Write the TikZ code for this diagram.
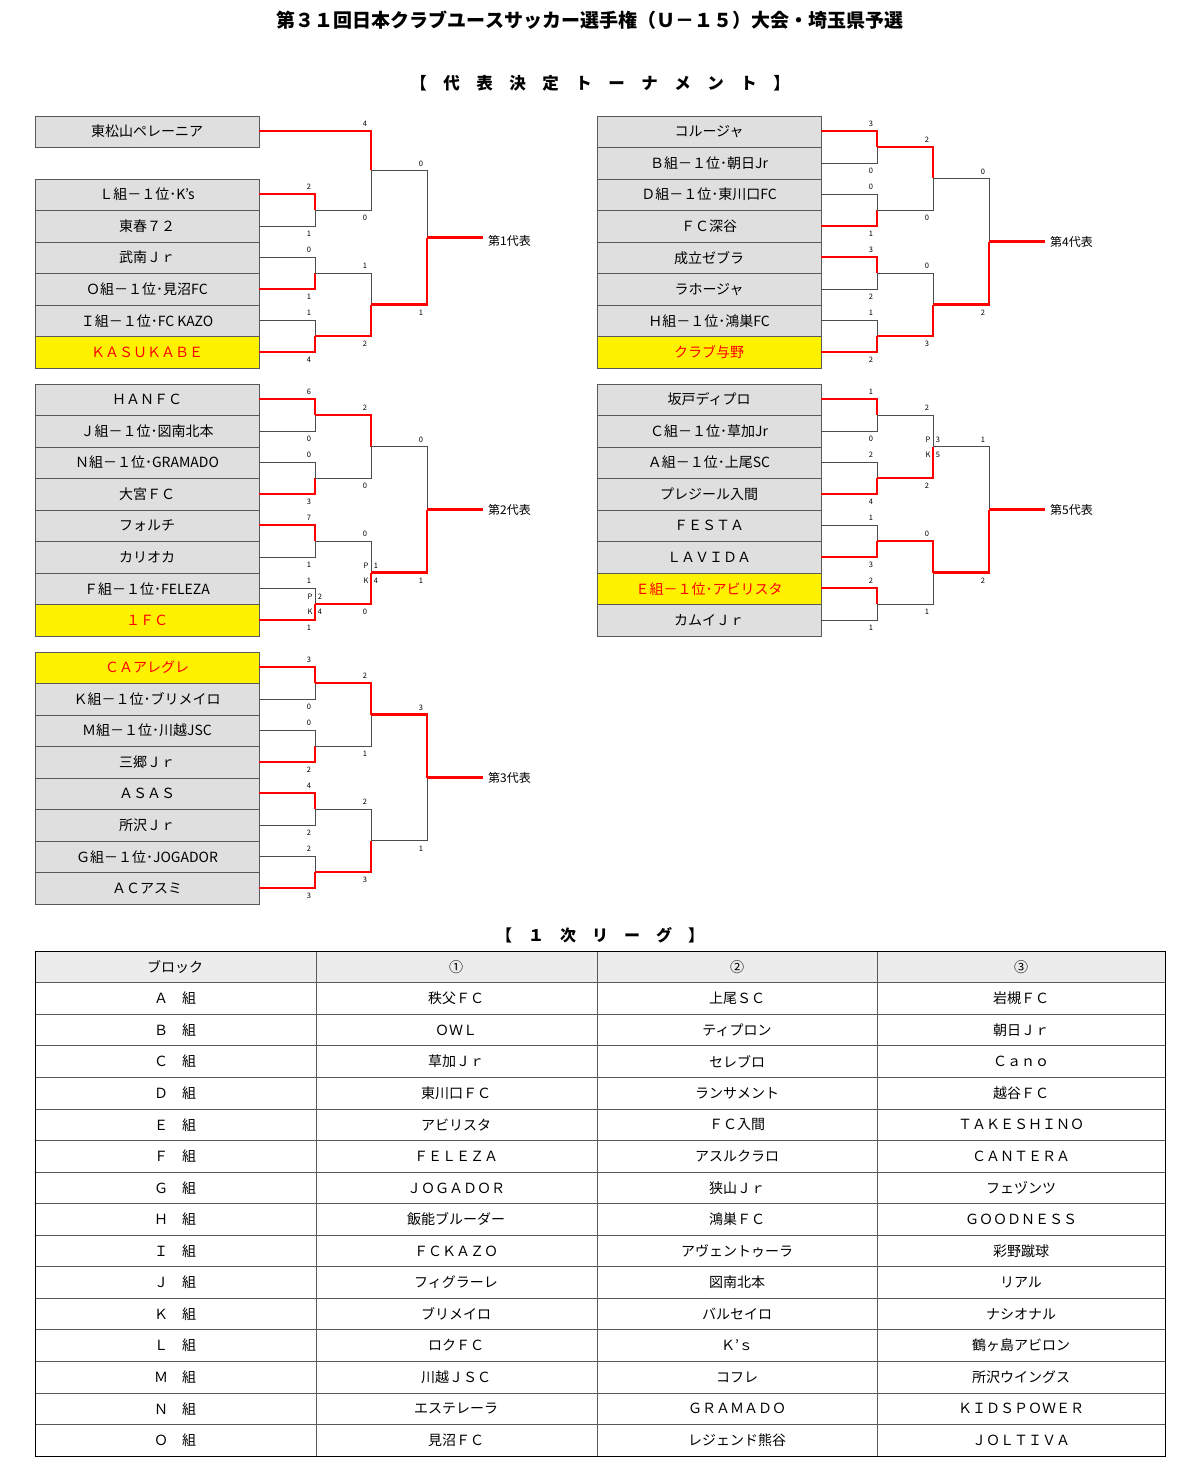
\documentclass[tikz,border=0pt]{standalone}
\usepackage{fontspec}
\setmainfont{Noto Sans CJK JP}
\usetikzlibrary{calc}
\tikzstyle{team} = [draw=gray!70!black, fill=gray!25, minimum width=224pt, minimum height=31.5pt, inner sep=0pt, font=\fontsize{14}{14}\selectfont]
\tikzstyle{seed} = [team, fill=yellow, text=red]
\tikzstyle{win} = [draw=red, line width=2.4pt]
\tikzstyle{lose} = [draw=black!70, line width=0.6pt]
\tikzstyle{score} = [inner sep=0pt, font=\fontsize{7.5}{7.5}\selectfont]
\tikzstyle{rep} = [anchor=west, inner sep=0pt, font=\fontsize{12}{12}\selectfont]
\tikzstyle{cell} = [inner sep=0pt, font=\fontsize{14}{14}\selectfont]
% one match: start x top, start x bottom, vertical x, y top, y bottom, winner, scores
\newcommand\bmatch[8]{%
  \pgfmathsetmacro\ym{(#4+#5)/2}
  \ifnum#6=1
    \draw[lose] (#2,#5) -- (#3,#5) -- (#3,\ym);
    \draw[win] (#1,#4) -- (#3,#4) -- (#3,\ym);
  \else
    \draw[lose] (#1,#4) -- (#3,#4) -- (#3,\ym);
    \draw[win] (#2,#5) -- (#3,#5) -- (#3,\ym);
  \fi
  \node[score] at (#3-6,#4-7) {#7};
  \node[score] at (#3-6,#5+8) {#8};
}
% penalty kicks beside a vertical
\newcommand\pk[4]{%
  \node[score] at (#1-5,#2-7) {P};
  \node[score] at (#1+5,#2-7) {#3};
  \node[score] at (#1-5,#2+8) {K};
  \node[score] at (#1+5,#2+8) {#4};
}
\begin{document}
\begin{tikzpicture}[x=1pt, y=-1pt]
  \useasboundingbox (0,0) rectangle (1200,1474);
  \node[font=\fontsize{19}{19}\selectfont\bfseries] (title) at (590,20) {第３１回日本クラブユースサッカー選手権（Ｕ－１５）大会・埼玉県予選};
  \node[font=\fontsize{16.5}{16.5}\selectfont\bfseries] (ttour) at (600,83) {【　代　表　決　定　ト　ー　ナ　メ　ン　ト　】};

  % teams
  \node[team] (a1) at (147,131.5) {東松山ペレーニア};
  \foreach \t/\s [count=\i] in {Ｌ組－１位･K's/team, 東春７２/team, 武南Ｊｒ/team, Ｏ組－１位･見沼FC/team, Ｉ組－１位･FC KAZO/team, ＫＡＳＵＫＡＢＥ/seed}
    \node[\s] (a\i x) at (147,{194.5+(\i-1)*31.55}) {\t};
  \foreach \t/\s [count=\i] in {ＨＡＮＦＣ/team, Ｊ組－１位･図南北本/team, Ｎ組－１位･GRAMADO/team, 大宮ＦＣ/team, フォルチ/team, カリオカ/team, Ｆ組－１位･FELEZA/team, １ＦＣ/seed}
    \node[\s] (b\i) at (147,{399.5+(\i-1)*31.55}) {\t};
  \foreach \t/\s [count=\i] in {ＣＡアレグレ/seed, Ｋ組－１位･ブリメイロ/team, Ｍ組－１位･川越JSC/team, 三郷Ｊｒ/team, ＡＳＡＳ/team, 所沢Ｊｒ/team, Ｇ組－１位･JOGADOR/team, ＡＣアスミ/team}
    \node[\s] (c\i) at (147,{667.5+(\i-1)*31.55}) {\t};
  \foreach \t/\s [count=\i] in {コルージャ/team, Ｂ組－１位･朝日Jr/team, Ｄ組－１位･東川口FC/team, ＦＣ深谷/team, 成立ゼブラ/team, ラホージャ/team, Ｈ組－１位･鴻巣FC/team, クラブ与野/seed}
    \node[\s] (d\i) at (709,{131.5+(\i-1)*31.55}) {\t};
  \foreach \t/\s [count=\i] in {坂戸ディプロ/team, Ｃ組－１位･草加Jr/team, Ａ組－１位･上尾SC/team, プレジール入間/team, ＦＥＳＴＡ/team, ＬＡＶＩＤＡ/team, Ｅ組－１位･アビリスタ/seed, カムイＪｒ/team}
    \node[\s] (e\i) at (709,{399.5+(\i-1)*31.55}) {\t};

  % block 1
  \bmatch{259}{259}{315}{194}{226}{1}{2}{1}
  \bmatch{259}{259}{315}{257}{289}{2}{0}{1}
  \bmatch{259}{259}{315}{320}{352}{2}{1}{4}
  \bmatch{259}{315}{371}{131}{210}{1}{4}{0}
  \bmatch{315}{315}{371}{273}{336}{2}{1}{2}
  \bmatch{371}{371}{427}{170.5}{304.5}{2}{0}{1}
  \draw[win] (427,237.5) -- (483,237.5) node[rep, text=black] (rep1) at (487,241) {第1代表};

  % block 2
  \bmatch{259}{259}{315}{399}{431}{1}{6}{0}
  \bmatch{259}{259}{315}{462}{494}{2}{0}{3}
  \bmatch{259}{259}{315}{525}{557}{1}{7}{1}
  \bmatch{259}{259}{315}{588}{620}{2}{1}{1}
  \pk{315}{604}{2}{4}
  \bmatch{315}{315}{371}{415}{478}{1}{2}{0}
  \bmatch{315}{315}{371}{541}{604}{2}{0}{0}
  \pk{371}{572.5}{1}{4}
  \bmatch{371}{371}{427}{446.5}{572.5}{2}{0}{1}
  \draw[win] (427,509.5) -- (483,509.5) node[rep, text=black] (rep2) at (487,509.5) {第2代表};

  % block 3
  \bmatch{259}{259}{315}{667}{699}{1}{3}{0}
  \bmatch{259}{259}{315}{730}{762}{2}{0}{2}
  \bmatch{259}{259}{315}{793}{825}{1}{4}{2}
  \bmatch{259}{259}{315}{856}{888}{2}{2}{3}
  \bmatch{315}{315}{371}{683}{746}{1}{2}{1}
  \bmatch{315}{315}{371}{809}{872}{2}{2}{3}
  \bmatch{371}{371}{427}{714.5}{840.5}{1}{3}{1}
  \draw[win] (427,777.5) -- (483,777.5) node[rep, text=black] (rep3) at (487,777.5) {第3代表};

  % block 4
  \bmatch{821}{821}{877}{131}{163}{1}{3}{0}
  \bmatch{821}{821}{877}{194}{226}{2}{0}{1}
  \bmatch{821}{821}{877}{257}{289}{1}{3}{2}
  \bmatch{821}{821}{877}{320}{352}{2}{1}{2}
  \bmatch{877}{877}{933}{147}{210}{1}{2}{0}
  \bmatch{877}{877}{933}{273}{336}{2}{0}{3}
  \bmatch{933}{933}{989}{178.5}{304.5}{2}{0}{2}
  \draw[win] (989,241.5) -- (1045,241.5) node[rep, text=black] (rep4) at (1049,241.5) {第4代表};

  % block 5
  \bmatch{821}{821}{877}{399}{431}{1}{1}{0}
  \bmatch{821}{821}{877}{462}{494}{2}{2}{4}
  \bmatch{821}{821}{877}{525}{557}{2}{1}{3}
  \bmatch{821}{821}{877}{588}{620}{1}{2}{1}
  \bmatch{877}{877}{933}{415}{478}{2}{2}{2}
  \pk{933}{446.5}{3}{5}
  \bmatch{877}{877}{933}{541}{604}{1}{0}{1}
  \bmatch{933}{933}{989}{446.5}{572.5}{2}{1}{2}
  \draw[win] (989,509.5) -- (1045,509.5) node[rep, text=black] (rep5) at (1049,509.5) {第5代表};

  % league table
  \node[font=\fontsize{16}{16}\selectfont\bfseries] (tleague) at (600,935) {【　１　次　リ　ー　グ　】};
  \fill[gray!15] (35,951) rectangle (1165,982.5);
  \foreach \r in {1,...,15}
    \draw[gray!70!black] (35,{951+\r*31.55}) -- (1165,{951+\r*31.55});
  \foreach \c in {316,597,877}
    \draw[gray!70!black] (\c,951) -- (\c,1455.8);
  \draw[black] (35,951) rectangle (1165,1455.8);
  \foreach \a/\b/\c/\d [count=\i from 0] in {ブロック/①/②/③,
      Ａ　組/秩父ＦＣ/上尾ＳＣ/岩槻ＦＣ,
      Ｂ　組/ＯＷＬ/ティプロン/朝日Ｊｒ,
      Ｃ　組/草加Ｊｒ/セレブロ/Ｃａｎｏ,
      Ｄ　組/東川口ＦＣ/ランサメント/越谷ＦＣ,
      Ｅ　組/アビリスタ/ＦＣ入間/ＴＡＫＥＳＨＩＮＯ,
      Ｆ　組/ＦＥＬＥＺＡ/アスルクラロ/ＣＡＮＴＥＲＡ,
      Ｇ　組/ＪＯＧＡＤＯＲ/狭山Ｊｒ/フェヅンツ,
      Ｈ　組/飯能ブルーダー/鴻巣ＦＣ/ＧＯＯＤＮＥＳＳ,
      Ｉ　組/ＦＣＫＡＺＯ/アヴェントゥーラ/彩野蹴球,
      Ｊ　組/フィグラーレ/図南北本/リアル,
      Ｋ　組/ブリメイロ/バルセイロ/ナシオナル,
      Ｌ　組/ロクＦＣ/Ｋ’ｓ/鶴ヶ島アビロン,
      Ｍ　組/川越ＪＳＣ/コフレ/所沢ウイングス,
      Ｎ　組/エステレーラ/ＧＲＡＭＡＤＯ/ＫＩＤＳＰＯＷＥＲ,
      Ｏ　組/見沼ＦＣ/レジェンド熊谷/ＪＯＬＴＩＶＡ} {
    \node[cell] (r\i a) at (175,{967+\i*31.55}) {\a};
    \node[cell] (r\i b) at (456,{967+\i*31.55}) {\b};
    \node[cell] (r\i c) at (737,{967+\i*31.55}) {\c};
    \node[cell] (r\i d) at (1021,{967+\i*31.55}) {\d};
  }
\end{tikzpicture}
\end{document}
